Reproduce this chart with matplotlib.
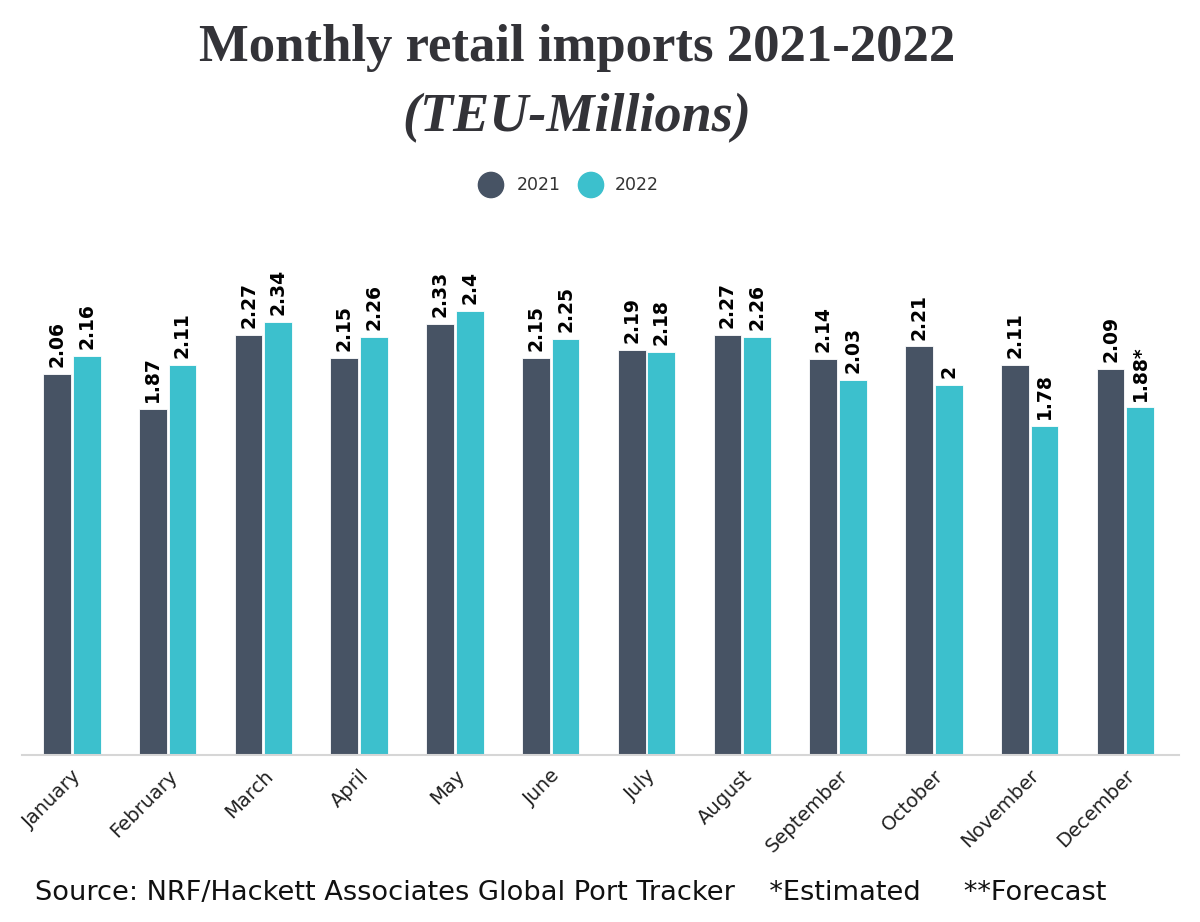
import numpy as np
import matplotlib.pyplot as plt

months = ["January", "February", "March", "April", "May", "June", "July",
          "August", "September", "October", "November", "December"]
imports_2021 = [2.06, 1.87, 2.27, 2.15, 2.33, 2.15, 2.19, 2.27, 2.14, 2.21, 2.11, 2.09]
imports_2022 = [2.16, 2.11, 2.34, 2.26, 2.40, 2.25, 2.18, 2.26, 2.03, 2.00, 1.78, 1.88]
labels_2021 = ["2.06", "1.87", "2.27", "2.15", "2.33", "2.15", "2.19", "2.27", "2.14", "2.21", "2.11", "2.09"]
labels_2022 = ["2.16", "2.11", "2.34", "2.26", "2.4", "2.25", "2.18", "2.26", "2.03", "2", "1.78", "1.88*"]

c21 = "#475364"
c22 = "#3cc0cd"
sans = ["DejaVu Sans"]

fig = plt.figure(figsize=(12, 9.22), dpi=100)
ax = fig.add_axes([22 / 1200, 1 - 755 / 922, (1179 - 22) / 1200, (755 - 230) / 922])

x = np.arange(len(months))
w = 0.29
off = 0.155
b1 = ax.bar(x - off, imports_2021, w, color=c21, edgecolor="white", linewidth=0.6)
b2 = ax.bar(x + off, imports_2022, w, color=c22, edgecolor="white", linewidth=0.6)

for bars, labs in ((b1, labels_2021), (b2, labels_2022)):
    for b, t in zip(bars, labs):
        ax.annotate(t, (b.get_x() + b.get_width() / 2, b.get_height()),
                    xytext=(0, 5), textcoords="offset points", rotation=90,
                    ha="center", va="bottom", fontsize=13.5, fontweight="bold",
                    family=sans, color="black")

ax.set_xlim(-0.52, 11.56)
ax.set_ylim(0, 2.84)
ax.set_xticks(x)
ax.set_xticklabels(months, rotation=45, ha="right", rotation_mode="anchor",
                   fontsize=14, family=sans, color="#222222")
ax.tick_params(axis="x", length=0, pad=8)
ax.set_yticks([])
for s in ["top", "right", "left"]:
    ax.spines[s].set_visible(False)
ax.spines["bottom"].set_color("#d6d6d6")
ax.spines["bottom"].set_linewidth(1.5)

cx = 577 / 1200
fig.text(cx, 1 - 48 / 922, "Monthly retail imports 2021-2022", ha="center", va="center",
         fontsize=38, fontweight="bold", family="Liberation Serif", color="#333338")
fig.text(cx, 1 - 118 / 922, "(TEU-Millions)", ha="center", va="center",
         fontsize=39, fontweight="bold", style="italic", family="Liberation Serif", color="#333338")

# legend drawn by hand: dots + labels
ax_leg = fig.add_axes([0, 1 - 200 / 922, 1, 30 / 922])
ax_leg.set_xlim(0, 1200)
ax_leg.set_ylim(0, 30)
ax_leg.axis("off")
ax_leg.scatter([491, 591], [15, 15], s=330, color=[c21, c22])
ax_leg.text(517, 15, "2021", va="center", fontsize=12.5, family=sans, color="#333333")
ax_leg.text(615, 15, "2022", va="center", fontsize=12.5, family=sans, color="#333333")

fig.text(35 / 1200, 1 - 893 / 922, "Source: NRF/Hackett Associates Global Port Tracker    *Estimated     **Forecast",
         ha="left", va="center", fontsize=19.6, family=sans, color="#111111")

fig.savefig("out.png", dpi=100, facecolor="white")
